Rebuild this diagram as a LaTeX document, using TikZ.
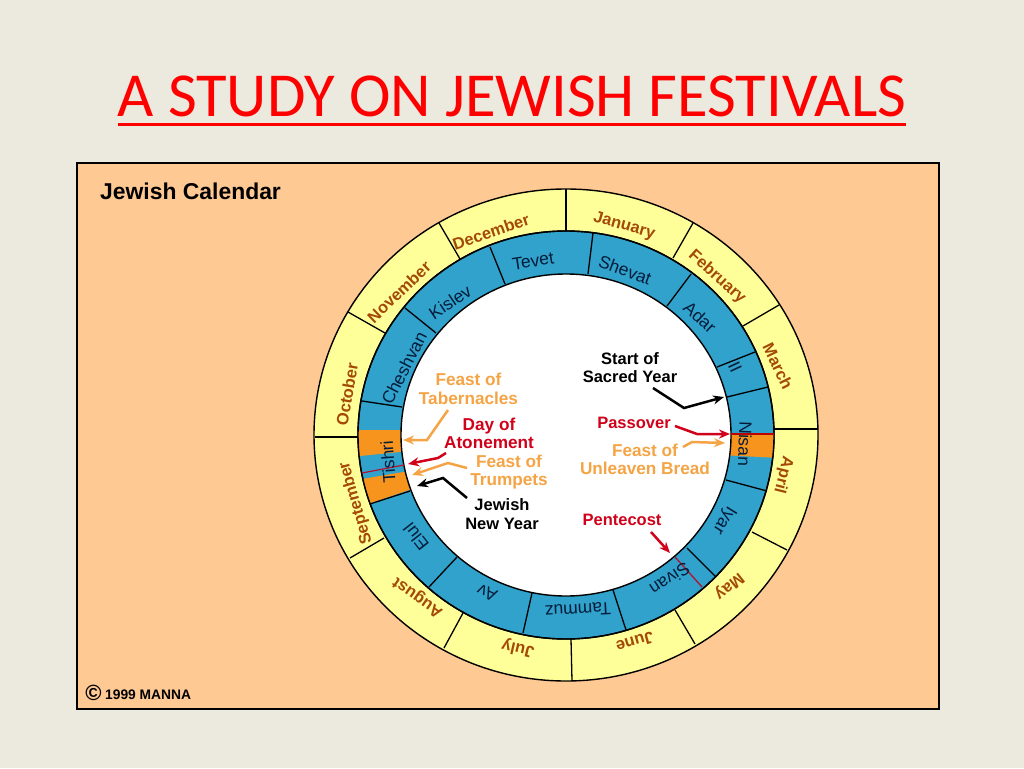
\documentclass[tikz,border=0pt]{standalone}
\usepackage{fontspec}
\usetikzlibrary{arrows.meta}
\setmainfont{Liberation Sans}
\newfontfamily\titlef{Carlito}
\definecolor{slidebg}{HTML}{ECE9DE}
\definecolor{panel}{HTML}{FFC994}
\definecolor{ringy}{HTML}{FFFF99}
\definecolor{ringb}{HTML}{30A2CC}
\definecolor{festo}{HTML}{F7941E}
\definecolor{brownt}{HTML}{A34A08}
\definecolor{navyt}{HTML}{041C3A}
\definecolor{redl}{HTML}{D0021B}
\definecolor{orl}{HTML}{F5A445}
\definecolor{darkr}{HTML}{B3132E}
\tikzset{
  month/.style={font=\fontsize{16.5}{18}\selectfont\bfseries,text=brownt,inner sep=0pt},
  hmonth/.style={font=\fontsize{17.5}{20}\selectfont,text=navyt,inner sep=0pt},
  lab/.style={font=\fontsize{16.5}{18.5}\selectfont\bfseries,align=center,inner sep=0pt},
  labb/.style={font=\fontsize{17.2}{18.5}\selectfont\bfseries,align=center,inner sep=0pt},
  div/.style={draw=black,line width=1.3pt},
  arr/.style={line width=2.5pt,-{Stealth[length=11pt,width=9pt]}},
  ring/.style={draw=black,line width=1.4pt}
}
\begin{document}
\begin{tikzpicture}[x=1pt,y=-1pt]
\useasboundingbox (0,0) rectangle (1024,768);
\fill[slidebg] (0,0) rectangle (1024,768);
\node[font=\fontsize{62.6}{62}\selectfont\titlef,text=red,inner sep=0pt] (title) at (512,96) {A STUDY ON JEWISH FESTIVALS};
\draw[red,line width=3pt] (118,124.5) -- (906,124.5);
\draw[fill=panel,draw=black,line width=2pt] (77,163) rectangle (939,709);
\node[font=\fontsize{22.9}{26}\selectfont\bfseries,anchor=west,inner sep=0pt] (cal) at (100,191) {Jewish Calendar};
\node[font=\fontsize{22}{24}\selectfont\bfseries,anchor=center,inner sep=0pt] (copy) at (93.5,693) {©};
\node[font=\fontsize{13.8}{15}\selectfont\bfseries,anchor=west,inner sep=0pt] (man) at (105,694.5) {1999 MANNA};
% rings
\filldraw[fill=ringy,ring] (566,435) ellipse [x radius=252pt,y radius=246pt];
\filldraw[fill=ringb,ring] (566,435) ellipse [x radius=208pt,y radius=204pt];
% orange bands
\begin{scope}
\clip (566,435) ellipse [x radius=208pt,y radius=204pt];
\fill[festo] (350,430) -- (410,430) -- (410,451) -- (350,457) -- cycle;
\fill[festo] (350,481) -- (415,470) -- (415,488) -- (350,510) -- cycle;
\fill[festo] (720,434) -- (780,434) -- (780,458) -- (720,455) -- cycle;
\end{scope}
\filldraw[fill=white,ring] (566,435) ellipse [x radius=165pt,y radius=161pt];
\draw[ring] (566,435) ellipse [x radius=208pt,y radius=204pt];
% festival lines in the ring
\draw[darkr,line width=1.2pt] (362,473) -- (404,465);
\draw[darkr,line width=1.3pt] (675,557) -- (702,587);
\draw[red!75!black,line width=2.2pt] (731,434) -- (774,434);
% month dividers
\foreach \a/\b/\c/\d in {566/189/566/231,693/223/673/258,779/305/743/326,818/429/774/429,787/550/752/532,695/644/675/610,572/681/571/639,444/648/463/613,350/558/384/538,315/437/358/437,348/312/385/333,439/223/460/259}
  \draw[div] (\a,\b) -- (\c,\d);
\foreach \a/\b/\c/\d in {593/233/588/274,691/274/667/306,755/352/717/367,768/387/727/397,767/491/726/480,716/577/687/548,626/630/613/590,523/633/532/593,429/587/457/557,370/504/410/491,362/401/402/407,405/308/436/333,490/247/505/284}
  \draw[div] (\a,\b) -- (\c,\d);
% months
\node[month,rotate=19] (dec) at (491,232) {December};
\node[month,rotate=-16] (jan) at (624,226) {January};
\node[month,rotate=-42] (feb) at (717,277) {February};
\node[month,rotate=-64] (mar) at (778,366) {March};
\node[month,rotate=-104] (apr) at (783,475) {April};
\node[month,rotate=-141] (may) at (729,586) {May};
\node[month,rotate=-164] (jun) at (635,642) {June};
\node[month,rotate=167] (jul) at (518,648) {July};
\node[month,rotate=145] (aug) at (418,597) {August};
\node[month,rotate=106] (sep) at (356,503) {September};
\node[month,rotate=80] (oct) at (347,394) {October};
\node[month,rotate=44] (nov) at (399,292) {November};
% hebrew months
\node[hmonth,rotate=9] (tev) at (533,261) {Tevet};
\node[hmonth,rotate=-20] (she) at (625,270) {Shevat};
\node[hmonth,rotate=-42] (ada) at (700,317) {Adar};
\node[hmonth,rotate=-65] (ii) at (735,367) {II};
\node[hmonth,rotate=-92] (nis) at (745,444) {Nisan};
\node[hmonth,rotate=-122] (iya) at (724,520) {Iyar};
\node[hmonth,rotate=-147] (siv) at (670,579) {Sivan};
\node[hmonth,rotate=-177] (tam) at (578,610) {Tammuz};
\node[hmonth,rotate=155] (av) at (487,593) {Av};
\node[hmonth,rotate=128] (elu) at (416,537) {Elul};
\node[hmonth,rotate=94] (tis) at (388,462) {Tishri};
\node[hmonth,rotate=63] (che) at (404,368) {Cheshvan};
\node[hmonth,rotate=34] (kis) at (450,302) {Kislev};
% labels
\node[labb,text=orl] (tab) at (468.5,389) {Feast of\\Tabernacles};
\node[labb,text=redl] (ato) at (489,433.5) {Day of\\Atonement};
\node[labb,text=orl] (tru) at (509,472) {Feast of\\Trumpets};
\node[lab,text=black] (new) at (502,514) {Jewish\\New Year};
\node[lab,text=black] (sac) at (630,367.5) {Start of\\Sacred Year};
\node[lab,text=redl] (pas) at (634,423) {Passover};
\node[labb,text=orl] (unl) at (645,459.5) {Feast of\\Unleaven Bread};
\node[lab,text=redl] (pen) at (622,520) {Pentecost};
% connector points
\coordinate (a1) at (448,410); \coordinate (a2) at (427,440); \coordinate (a3) at (403,440);
\coordinate (b1) at (446,453); \coordinate (b2) at (438,458); \coordinate (b3) at (408,464);
\coordinate (c1) at (467,468); \coordinate (c2) at (448,463); \coordinate (c3) at (412,475);
\coordinate (d1) at (467,498); \coordinate (d2) at (443,478); \coordinate (d3) at (417,486);
\coordinate (e1) at (653,388); \coordinate (e2) at (684,408); \coordinate (e3) at (724,397);
\coordinate (f1) at (675,426); \coordinate (f2) at (697,434); \coordinate (f3) at (730,434);
\coordinate (g1) at (683,447); \coordinate (g2) at (692,442); \coordinate (g3) at (725,443);
\coordinate (h1) at (651,532); \coordinate (h3) at (670,553);
\draw[arr,orl] (a1) -- (a2) -- (a3);
\draw[arr,redl] (b1) -- (b2) -- (b3);
\draw[arr,orl] (c1) -- (c2) -- (c3);
\draw[arr,black] (d1) -- (d2) -- (d3);
\draw[arr,black] (e1) -- (e2) -- (e3);
\draw[arr,redl] (f1) -- (f2) -- (f3);
\draw[arr,orl] (g1) -- (g2) -- (g3);
\draw[arr,redl] (h1) -- (h3);
\end{tikzpicture}
\end{document}
